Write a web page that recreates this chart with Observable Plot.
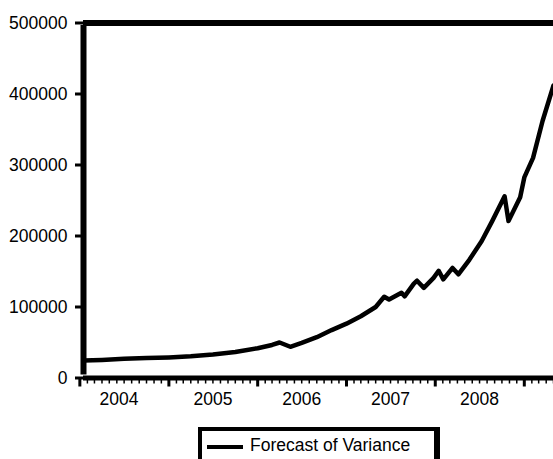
<!DOCTYPE html>
<html>
<head>
<meta charset="utf-8">
<script src="https://cdn.jsdelivr.net/npm/d3@7"></script>
<script src="https://cdn.jsdelivr.net/npm/@observablehq/plot@0.6"></script>
<style>
  html, body { margin: 0; padding: 0; background: #fff; }
  #wrap { position: relative; width: 553px; height: 459px; overflow: hidden; font-family: "Liberation Sans", Arial, sans-serif; }
  #legend { position: absolute; left: 198px; top: 427px; width: 232px; height: 30px; border-style: solid; border-color: #000; border-width: 4px 6px 4px 4px; background: #fff; }
  #legend .sw { position: absolute; left: 5px; top: 14px; width: 36px; height: 4px; background: #000; }
  #legend .lb { position: absolute; left: 48px; top: 4px; font-size: 17.5px; color: #000; white-space: nowrap; }
</style>
</head>
<body>
<div id="wrap"></div>
<script>
const seriesName = "Forecast of Variance";
const dates = [
  "2004-01-16","2004-04-01","2004-07-01","2004-10-01","2005-01-01","2005-04-01","2005-07-01","2005-10-01",
  "2006-01-01","2006-03-01","2006-04-01","2006-05-15","2006-07-01","2006-09-01","2006-11-01",
  "2007-01-01","2007-03-01","2007-05-01","2007-06-05","2007-06-25","2007-08-15","2007-08-28",
  "2007-10-05","2007-10-18","2007-11-15","2007-12-25","2008-01-15","2008-02-03","2008-03-12",
  "2008-04-05","2008-05-20","2008-07-10","2008-08-22","2008-10-12","2008-10-28","2008-12-15",
  "2009-01-01","2009-02-06","2009-03-17","2009-05-01"
];
const values = [
  24500, 25500, 27000, 28000, 29000, 30500, 33000, 36500,
  42000, 46500, 50000, 44000, 49500, 57500, 67500,
  76500, 87000, 100000, 114500, 110500, 120000, 115000,
  133000, 137000, 127000, 141000, 151000, 139000, 155000,
  146000, 166500, 193000, 221000, 256000, 221000, 254500,
  282500, 310000, 362000, 412000
];
const yTicks = [0, 100000, 200000, 300000, 400000, 500000];
const yearTicks = ["2004","2005","2006","2007","2008","2009"];
const yearLabels = ["2004-06-10","2005-07-01","2006-07-01","2007-07-01","2008-07-01"];

const data = dates.map((d, i) => ({date: new Date(d), value: values[i]}));
const x0 = new Date("2004-01-16"), x1 = new Date("2009-05-01");

const chart = Plot.plot({
  width: 553,
  height: 420,
  marginLeft: 83,
  marginRight: 0,
  marginTop: 22.5,
  marginBottom: 42.5,
  style: {fontFamily: "'Liberation Sans', Arial, sans-serif", fontSize: "17.5px", background: "#fff", color: "#000"},
  x: {type: "utc", domain: [x0, x1]},
  y: {domain: [0, 500000]},
  marks: [
    Plot.axisX({ticks: d3.utcMonth.every(1), tickSize: 6, strokeWidth: 1.5, text: null, label: null}),
    Plot.axisX({ticks: yearTicks.map(d => new Date(d)), tickSize: 9, strokeWidth: 3, text: null, label: null}),
    Plot.axisX({ticks: yearLabels.map(d => new Date(d)), tickSize: 0, tickPadding: 15, tickFormat: d3.utcFormat("%Y"), fontSize: 17.5, label: null}),
    Plot.axisY({ticks: yTicks, tickSize: 8, strokeWidth: 3, tickPadding: 8, tickFormat: d3.format("d"), fontSize: 17.5, label: null}),
    Plot.line(data, {x: "date", y: "value", stroke: "#000", strokeWidth: 4.5, strokeLinejoin: "round", clip: true}),
    Plot.ruleY([0], {stroke: "#000", strokeWidth: 5}),
    Plot.ruleY([500000], {stroke: "#000", strokeWidth: 6}),
    Plot.ruleX([x0], {stroke: "#000", strokeWidth: 6, y1: 0, y2: 500000, insetTop: -3, insetBottom: -2.5})
  ]
});
const wrap = document.getElementById("wrap");
wrap.appendChild(chart);
const lg = document.createElement("div");
lg.id = "legend";
lg.innerHTML = '<div class="sw"></div><div class="lb"></div>';
lg.querySelector(".lb").textContent = seriesName;
wrap.appendChild(lg);
</script>
</body>
</html>
